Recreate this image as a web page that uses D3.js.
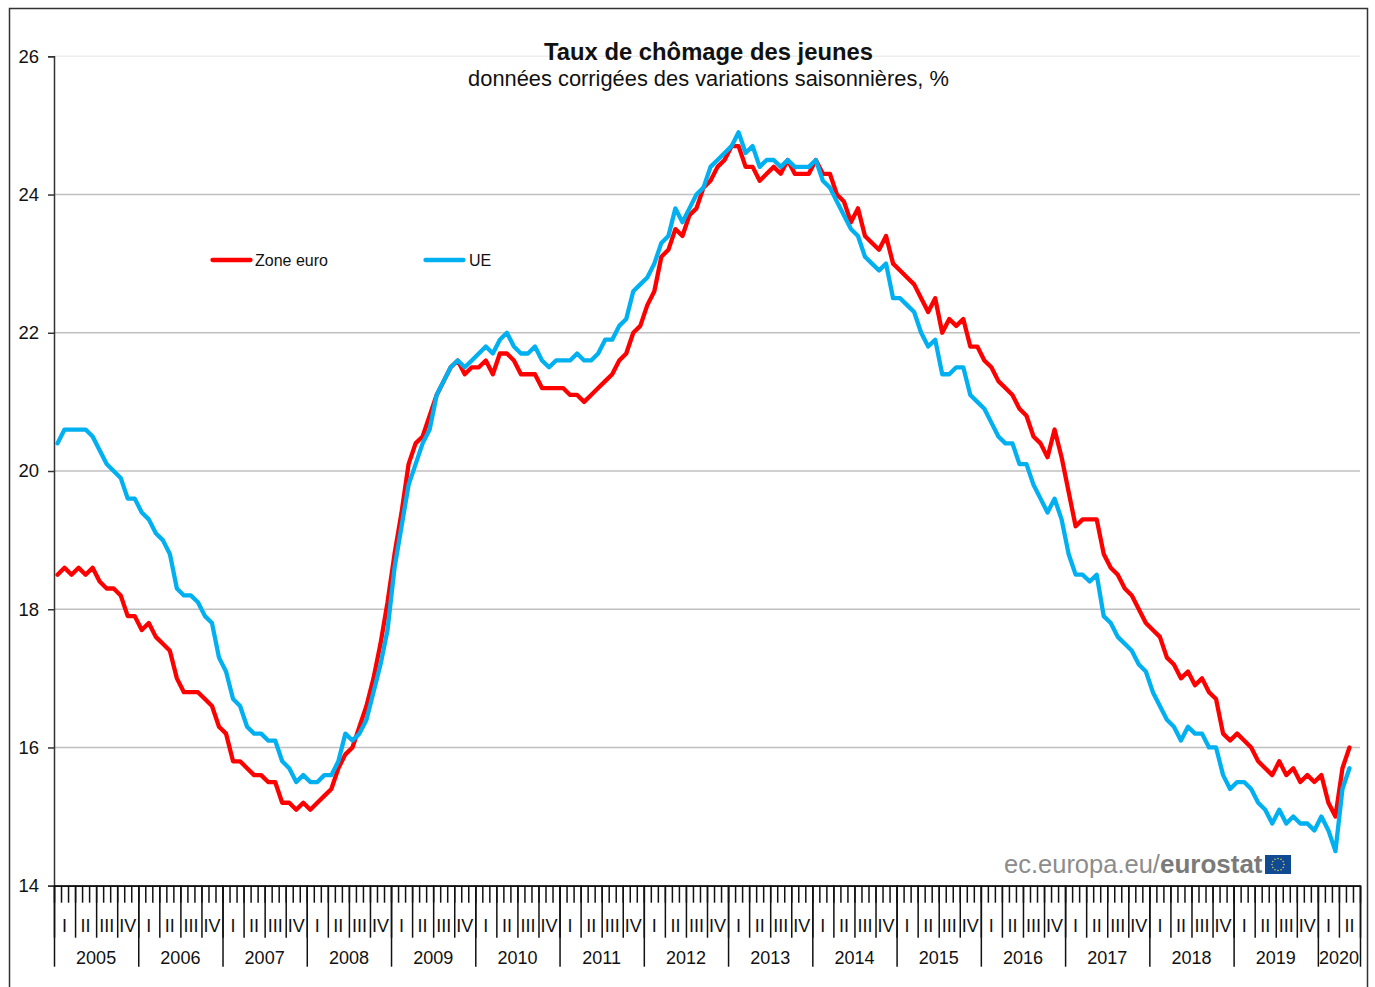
<!DOCTYPE html>
<html lang="fr">
<head>
<meta charset="utf-8">
<title>Taux de chômage des jeunes</title>
<script src="https://cdn.jsdelivr.net/npm/d3@7"></script>
<style>
  body { margin: 0; background: #fff; }
  svg { display: block; }
  text { font-family: "Liberation Sans", Arial, sans-serif; fill: #111; }
</style>
</head>
<body>
<div id="chart"></div>
<script>
// Values, one row per year (Jan 2005 - May 2020)
const years = [2005, 2006, 2007, 2008, 2009, 2010, 2011, 2012, 2013, 2014, 2015, 2016, 2017, 2018, 2019, 2020]
const quarterLabels = ['I', 'II', 'III', 'IV']
const yTicks = [14, 16, 18, 20, 22, 24, 26]

const zoneEuro = [
  18.5, 18.6, 18.5, 18.6, 18.5, 18.6, 18.4, 18.3, 18.3, 18.2, 17.9, 17.9,
  17.7, 17.8, 17.6, 17.5, 17.4, 17.0, 16.8, 16.8, 16.8, 16.7, 16.6, 16.3,
  16.2, 15.8, 15.8, 15.7, 15.6, 15.6, 15.5, 15.5, 15.2, 15.2, 15.1, 15.2,
  15.1, 15.2, 15.3, 15.4, 15.7, 15.9, 16.0, 16.3, 16.6, 17.0, 17.5, 18.1,
  18.8, 19.4, 20.1, 20.4, 20.5, 20.8, 21.1, 21.3, 21.5, 21.6, 21.4, 21.5,
  21.5, 21.6, 21.4, 21.7, 21.7, 21.6, 21.4, 21.4, 21.4, 21.2, 21.2, 21.2,
  21.2, 21.1, 21.1, 21.0, 21.1, 21.2, 21.3, 21.4, 21.6, 21.7, 22.0, 22.1,
  22.4, 22.6, 23.1, 23.2, 23.5, 23.4, 23.7, 23.8, 24.1, 24.2, 24.4, 24.5,
  24.7, 24.7, 24.4, 24.4, 24.2, 24.3, 24.4, 24.3, 24.5, 24.3, 24.3, 24.3,
  24.5, 24.3, 24.3, 24.0, 23.9, 23.6, 23.8, 23.4, 23.3, 23.2, 23.4, 23.0,
  22.9, 22.8, 22.7, 22.5, 22.3, 22.5, 22.0, 22.2, 22.1, 22.2, 21.8, 21.8,
  21.6, 21.5, 21.3, 21.2, 21.1, 20.9, 20.8, 20.5, 20.4, 20.2, 20.6, 20.2,
  19.7, 19.2, 19.3, 19.3, 19.3, 18.8, 18.6, 18.5, 18.3, 18.2, 18.0, 17.8,
  17.7, 17.6, 17.3, 17.2, 17.0, 17.1, 16.9, 17.0, 16.8, 16.7, 16.2, 16.1,
  16.2, 16.1, 16.0, 15.8, 15.7, 15.6, 15.8, 15.6, 15.7, 15.5, 15.6, 15.5,
  15.6, 15.2, 15.0, 15.7, 16.0
]

const ue = [
  20.4, 20.6, 20.6, 20.6, 20.6, 20.5, 20.3, 20.1, 20.0, 19.9, 19.6, 19.6,
  19.4, 19.3, 19.1, 19.0, 18.8, 18.3, 18.2, 18.2, 18.1, 17.9, 17.8, 17.3,
  17.1, 16.7, 16.6, 16.3, 16.2, 16.2, 16.1, 16.1, 15.8, 15.7, 15.5, 15.6,
  15.5, 15.5, 15.6, 15.6, 15.8, 16.2, 16.1, 16.2, 16.4, 16.8, 17.2, 17.7,
  18.6, 19.2, 19.8, 20.1, 20.4, 20.6, 21.1, 21.3, 21.5, 21.6, 21.5, 21.6,
  21.7, 21.8, 21.7, 21.9, 22.0, 21.8, 21.7, 21.7, 21.8, 21.6, 21.5, 21.6,
  21.6, 21.6, 21.7, 21.6, 21.6, 21.7, 21.9, 21.9, 22.1, 22.2, 22.6, 22.7,
  22.8, 23.0, 23.3, 23.4, 23.8, 23.6, 23.8, 24.0, 24.1, 24.4, 24.5, 24.6,
  24.7, 24.9, 24.6, 24.7, 24.4, 24.5, 24.5, 24.4, 24.5, 24.4, 24.4, 24.4,
  24.5, 24.2, 24.1, 23.9, 23.7, 23.5, 23.4, 23.1, 23.0, 22.9, 23.0, 22.5,
  22.5, 22.4, 22.3, 22.0, 21.8, 21.9, 21.4, 21.4, 21.5, 21.5, 21.1, 21.0,
  20.9, 20.7, 20.5, 20.4, 20.4, 20.1, 20.1, 19.8, 19.6, 19.4, 19.6, 19.3,
  18.8, 18.5, 18.5, 18.4, 18.5, 17.9, 17.8, 17.6, 17.5, 17.4, 17.2, 17.1,
  16.8, 16.6, 16.4, 16.3, 16.1, 16.3, 16.2, 16.2, 16.0, 16.0, 15.6, 15.4,
  15.5, 15.5, 15.4, 15.2, 15.1, 14.9, 15.1, 14.9, 15.0, 14.9, 14.9, 14.8,
  15.0, 14.8, 14.5, 15.4, 15.7
]

// set Dimension
const dim = { width: 1375, height: 987, left: 54, right: 1360, top: 56.3, bottom: 885.7 }
const monthCount = 186 // the axis runs on to the end of June 2020
const red = '#ff0000'
const blue = '#00b0f0'
const axisColor = '#333'

const svg = d3.select('#chart')
  .append('svg')
  .attr('width', dim.width)
  .attr('height', dim.height)

// frame of the chart, its bottom edge falls outside the picture
svg.append('rect')
  .attr('x', 9.5).attr('y', 8.5)
  .attr('width', 1358).attr('height', 1000)
  .attr('fill', 'none')
  .attr('stroke', axisColor)
  .attr('stroke-width', 1.5)

// set Scale
const x = d3.scaleLinear().domain([0, monthCount]).range([dim.left, dim.right])
const y = d3.scaleLinear().domain([14, 26]).range([dim.bottom, dim.top])

// gridlines
svg.append('g')
  .selectAll('line')
  .data(yTicks.filter(d => d > 14))
  .join('line')
  .attr('x1', dim.left).attr('x2', dim.right)
  .attr('y1', d => y(d)).attr('y2', d => y(d))
  .attr('stroke', d => d === 26 ? '#eeeeee' : '#c0c0c0')
  .attr('stroke-width', 1.5)

// y axis
const yAxis = svg.append('g')
  .attr('transform', `translate(${dim.left},0)`)
  .call(d3.axisLeft(y).tickValues(yTicks).tickSize(6).tickPadding(9).tickFormat(d3.format('d')))
yAxis.selectAll('text').style('font-size', '18.5px').attr('dy', '0.32em')
yAxis.selectAll('line, path').attr('stroke', axisColor).attr('stroke-width', 1.5)

// x axis: months, quarters and years are three sets of ticks of the same scale
function xTicks(values, size) {
  const g = svg.append('g')
    .attr('transform', `translate(0,${dim.bottom})`)
    .call(d3.axisBottom(x).tickValues(values).tickSize(size).tickSizeOuter(0).tickFormat(''))
  g.selectAll('line, path').attr('stroke', '#111').attr('stroke-width', 1.5)
}
const yearStarts = years.map((d, i) => i * 12)
xTicks(d3.range(0, monthCount + 1), 17)
xTicks(d3.range(0, monthCount + 1, 3), 52)
xTicks(yearStarts.concat([monthCount]), 81)

// quarter labels
const quarters = d3.range(0, monthCount, 3).map(m => ({ start: m, label: quarterLabels[(m / 3) % 4] }))
svg.append('g')
  .selectAll('text')
  .data(quarters)
  .join('text')
  .attr('x', d => x(d.start + 1.5))
  .attr('y', 932)
  .attr('text-anchor', 'middle')
  .style('font-size', '18px')
  .text(d => d.label)

// year labels
svg.append('g')
  .selectAll('text')
  .data(years)
  .join('text')
  .attr('x', (d, i) => x(i * 12 + (d === 2020 ? 3 : 6)))
  .attr('y', 964)
  .attr('text-anchor', 'middle')
  .style('font-size', '18px')
  .text(d => d)

// Draw chart
const line = d3.line()
  .x((d, i) => x(i + 0.5))
  .y(d => y(d))

svg.selectAll('path.series')
  .data([{ values: zoneEuro, color: red }, { values: ue, color: blue }])
  .join('path')
  .attr('class', 'series')
  .attr('d', d => line(d.values))
  .attr('fill', 'none')
  .attr('stroke', d => d.color)
  .attr('stroke-width', 4.3)
  .attr('stroke-linejoin', 'round')
  .attr('stroke-linecap', 'round')

// title
svg.append('text')
  .attr('x', 708.5).attr('y', 60)
  .attr('text-anchor', 'middle')
  .style('font-size', '23.8px')
  .style('font-weight', 'bold')
  .text('Taux de chômage des jeunes')
svg.append('text')
  .attr('x', 708.5).attr('y', 86)
  .attr('text-anchor', 'middle')
  .style('font-size', '21.85px')
  .text('données corrigées des variations saisonnières, %')

// legend
const legend = svg.append('g')
  .selectAll('g')
  .data([{ name: 'Zone euro', color: red, x: 212.5 }, { name: 'UE', color: blue, x: 425.5 }])
  .join('g')
  .attr('transform', d => `translate(${d.x},260)`)
legend.append('line')
  .attr('x2', 38)
  .attr('stroke', d => d.color)
  .attr('stroke-width', 4.3)
  .attr('stroke-linecap', 'round')
legend.append('text')
  .attr('x', d => d.name === 'UE' ? 43.5 : 42.5).attr('y', 6)
  .style('font-size', '16px')
  .text(d => d.name)

// eurostat logo
const logo = svg.append('g')
logo.append('text')
  .attr('x', 1004).attr('y', 873)
  .style('font-size', '25.5px')
  .style('fill', '#8c8c8c')
  .text('ec.europa.eu/')
  .append('tspan')
  .style('font-size', '26px')
  .style('font-weight', 'bold')
  .style('fill', '#7a7a7a')
  .text('eurostat')
logo.append('rect')
  .attr('x', 1265).attr('y', 855)
  .attr('width', 26).attr('height', 19)
  .attr('fill', '#104a93')
logo.selectAll('circle')
  .data(d3.range(12))
  .join('circle')
  .attr('cx', d => 1278 + 6 * Math.cos(d * Math.PI / 6))
  .attr('cy', d => 864.5 + 6 * Math.sin(d * Math.PI / 6))
  .attr('r', 0.8)
  .attr('fill', '#d8c94a')
</script>
</body>
</html>
